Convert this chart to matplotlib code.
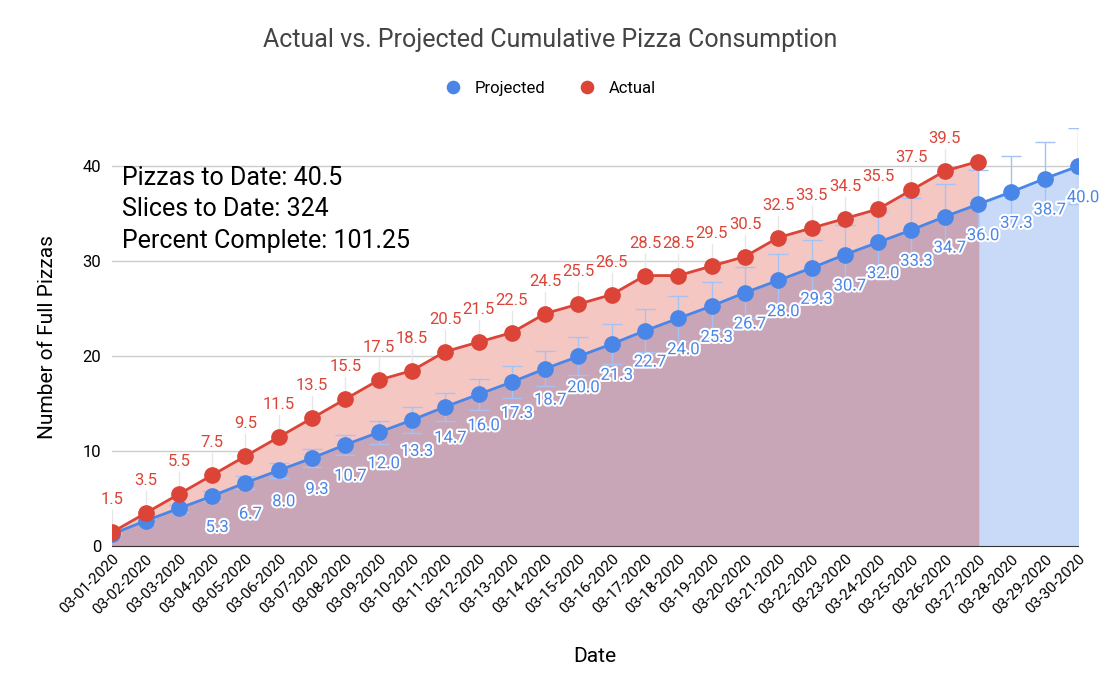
import matplotlib.pyplot as plt
import matplotlib.patheffects as pe

plt.rcParams['font.family'] = ['Roboto', 'DejaVu Sans']

dates = ['03-%02d-2020' % d for d in range(1, 31)]
projected = [1.3, 2.7, 4.0, 5.3, 6.7, 8.0, 9.3, 10.7, 12.0, 13.3, 14.7, 16.0, 17.3, 18.7, 20.0,
             21.3, 22.7, 24.0, 25.3, 26.7, 28.0, 29.3, 30.7, 32.0, 33.3, 34.7, 36.0, 37.3, 38.7, 40.0]
actual = [1.5, 3.5, 5.5, 7.5, 9.5, 11.5, 13.5, 15.5, 17.5, 18.5, 20.5, 21.5, 22.5, 24.5, 25.5,
          26.5, 28.5, 28.5, 29.5, 30.5, 32.5, 33.5, 34.5, 35.5, 37.5, 39.5, 40.5]

BLUE = '#4a86e8'
RED = '#db4437'

fig = plt.figure(figsize=(11, 6.97), dpi=100)
ax = fig.add_axes([0.102, 0.216, 0.878, 0.6])

xp = list(range(len(projected)))
xa = list(range(len(actual)))

ax.fill_between(xp, projected, color='#c9daf8', zorder=1)
ax.fill_between(xa, actual, color='#f4c7c3', zorder=1)
ax.fill_between(xa, projected[:len(actual)], color='#c9a6b7', zorder=1.5)

ax.errorbar(xp, projected, yerr=[p * 0.1 for p in projected], fmt='none',
            ecolor='#a4c2f4', elinewidth=1, capsize=7, zorder=2)
for x, a in zip(xa[:-1], actual[:-1]):
    ax.plot([x, x], [a, a + 2.3], color='#e6e6e6', lw=1, zorder=2)

ax.plot(xp, projected, '-o', color=BLUE, lw=2, ms=11, zorder=4, label='Projected')
ax.plot(xa, actual, '-o', color=RED, lw=2, ms=11, zorder=5, label='Actual')

stroke = [pe.withStroke(linewidth=3, foreground='white')]
for x, p in zip(xp[3:], projected[3:]):
    ax.text(x + 0.15, p - 3.3, '%.1f' % p, color=BLUE, fontsize=12, ha='center', va='center',
            path_effects=stroke, zorder=6)
for x, a in zip(xa[:-1], actual[:-1]):
    ax.text(x, a + 3.4, '%.1f' % a, color=RED, fontsize=12, ha='center', va='center', zorder=6)

ax.text(0.01, 0.91, 'Pizzas to Date: 40.5\nSlices to Date: 324\nPercent Complete: 101.25',
        transform=ax.transAxes, fontsize=18, va='top', linespacing=1.4, zorder=7)

ax.set_xlim(0, len(dates) - 1)
ax.set_ylim(0, 44)
ax.set_yticks([0, 10, 20, 30, 40])
ax.set_xticks(xp)
ax.set_xticklabels(dates, rotation=45, ha='right', rotation_mode='anchor', fontsize=11)
ax.tick_params(axis='y', labelsize=12, length=0, pad=8)
ax.tick_params(axis='x', length=0, pad=4)
ax.grid(axis='y', color='#cccccc', lw=1, zorder=0)
ax.set_axisbelow(True)
for s in ['top', 'right', 'left']:
    ax.spines[s].set_visible(False)
ax.spines['bottom'].set_color('#333333')
ax.set_xlabel('Date', fontsize=15, labelpad=22)
ax.set_ylabel('Number of Full Pizzas', fontsize=15, labelpad=18)

fig.suptitle('Actual vs. Projected Cumulative Pizza Consumption', fontsize=18, color='#444444', y=0.96)
fig.legend(loc='upper center', bbox_to_anchor=(0.5, 0.905), ncol=2, frameon=False,
           fontsize=12, handlelength=1, markerscale=0.8)
leg = fig.legends[0]
for h in leg.legend_handles:
    h.set_linestyle('none')

fig.savefig('out.png')
